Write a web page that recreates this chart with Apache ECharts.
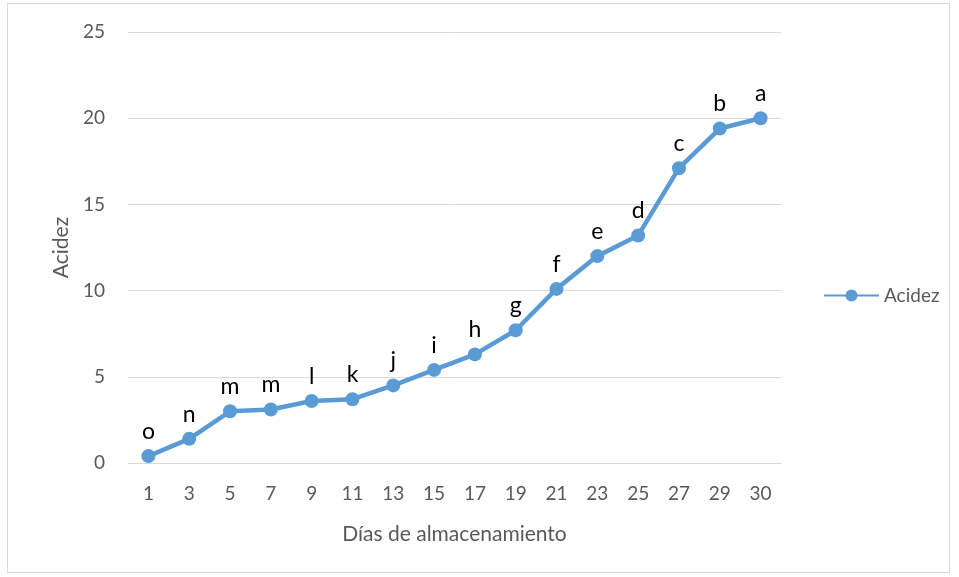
<!DOCTYPE html>
<html>
<head>
<meta charset="utf-8">
<script src="https://cdn.jsdelivr.net/npm/echarts@6/dist/echarts.min.js"></script>
<style>
  html, body { margin: 0; padding: 0; background: #fff; }
  #frame { position: absolute; left: 7px; top: 3px; width: 943px; height: 570px; border: 1px solid #d9d9d9; box-sizing: border-box; }
  #chart { position: absolute; left: 0; top: 0; width: 959px; height: 577px; }
</style>
</head>
<body>
<div id="frame"></div>
<div id="chart"></div>
<script>
// dias de almacenamiento
const days = ['1', '3', '5', '7', '9', '11', '13', '15', '17', '19', '21', '23', '25', '27', '29', '30']
// acidez medida
const acidez = [0.4, 1.4, 3.0, 3.1, 3.6, 3.7, 4.5, 5.4, 6.3, 7.7, 10.1, 12.0, 13.2, 17.1, 19.4, 20.0]
// letras de significancia
const letras = ['o', 'n', 'm', 'm', 'l', 'k', 'j', 'i', 'h', 'g', 'f', 'e', 'd', 'c', 'b', 'a']
const yTicks = [0, 5, 10, 15, 20, 25]

const font = 'Lato, "Open Sans", sans-serif'
const chart = echarts.init(document.getElementById('chart'))

chart.setOption({
  animation: false,
  textStyle: { fontFamily: font },
  grid: { left: 128, right: 178, top: 32, bottom: 114 },
  legend: {
    data: ['Acidez'],
    orient: 'vertical',
    left: 818,
    top: 281,
    itemWidth: 55,
    itemHeight: 15,
    itemGap: 4,
    textStyle: { color: '#595959', fontSize: 19, fontFamily: font }
  },
  xAxis: {
    type: 'category',
    data: days,
    name: 'Días de almacenamiento',
    nameLocation: 'middle',
    nameGap: 61,
    nameTextStyle: { color: '#595959', fontSize: 21, fontFamily: font },
    axisLine: { lineStyle: { color: '#d9d9d9', width: 1 } },
    axisTick: { show: false },
    axisLabel: { color: '#595959', fontSize: 19, margin: 21 }
  },
  yAxis: {
    type: 'value',
    min: yTicks[0],
    max: yTicks[yTicks.length - 1],
    interval: 5,
    name: 'Acidez',
    nameLocation: 'middle',
    nameGap: 52,
    nameTextStyle: { color: '#595959', fontSize: 21, fontFamily: font },
    axisLine: { show: false },
    axisTick: { show: false },
    axisLabel: { color: '#595959', fontSize: 19, margin: 23 },
    splitLine: { lineStyle: { color: '#d9d9d9', width: 1 } }
  },
  series: [
    {
      name: 'Acidez',
      type: 'line',
      data: acidez,
      symbol: 'circle',
      symbolSize: 14,
      lineStyle: { color: '#5b9bd5', width: 4.5 },
      itemStyle: { color: '#5b9bd5' },
      label: {
        show: true,
        position: 'top',
        distance: 6,
        color: '#000',
        fontSize: 23,
        formatter: p => letras[p.dataIndex]
      }
    }
  ]
})
</script>
</body>
</html>
